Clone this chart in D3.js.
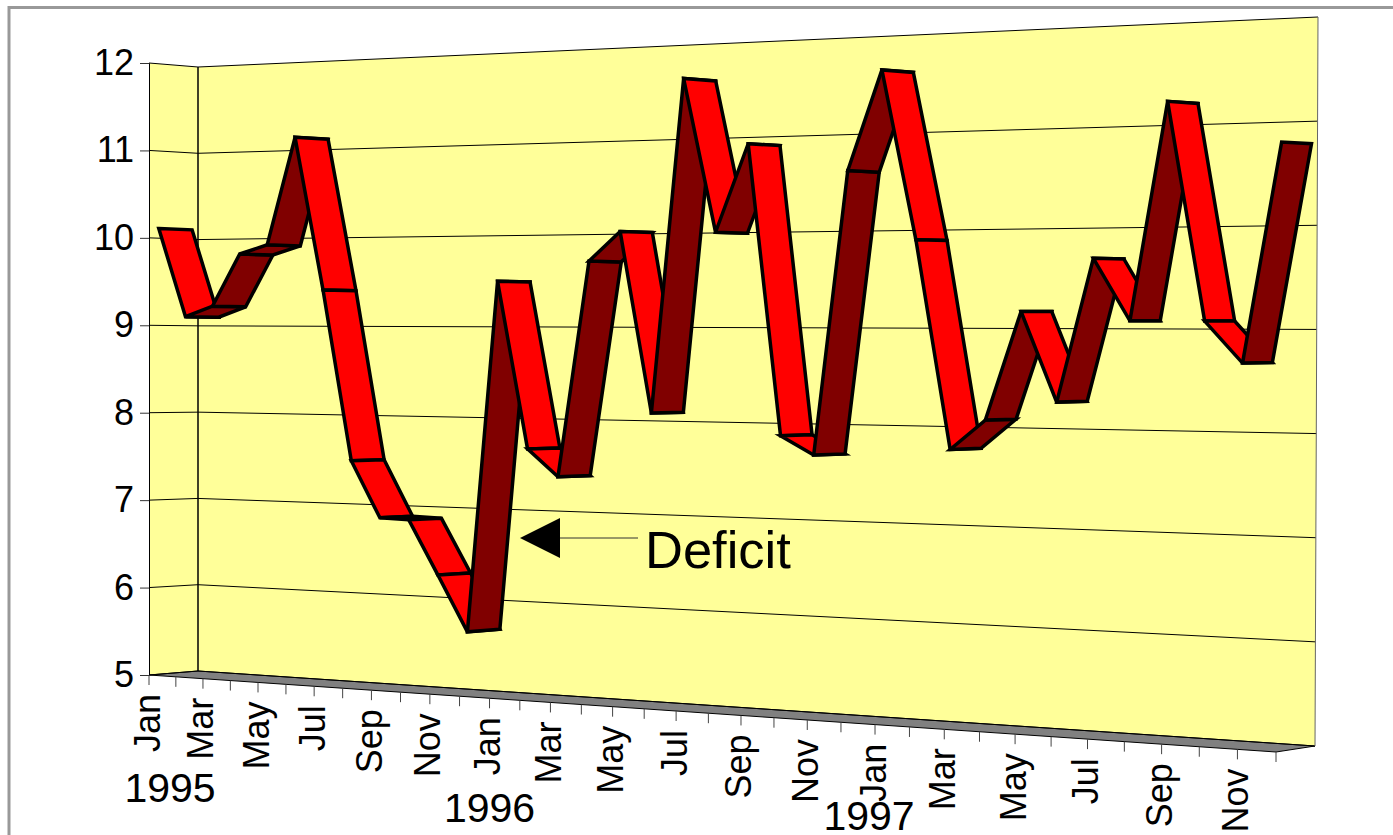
<!DOCTYPE html>
<html>
<head>
<meta charset="utf-8">
<script src="https://cdnjs.cloudflare.com/ajax/libs/d3/7.8.5/d3.min.js"></script>
<style>
  body { margin: 0; background: #fff; overflow: hidden; }
  text { font-family: "Liberation Sans", Arial, sans-serif; fill: #000; }
</style>
</head>
<body>
<div id="chart"></div>
<script>
const months = ["Jan","Feb","Mar","Apr","May","Jun","Jul","Aug","Sep","Oct","Nov","Dec"];
const years = ["1995", "1996", "1997"];
const yTicks = [5, 6, 7, 8, 9, 10, 11, 12];
const deficit = [
  10.11, 9.10, 9.22, 9.81, 9.91, 11.11, 9.40, 7.51, 6.89, 6.88, 6.29, 5.69,
  9.49, 7.69, 7.40, 9.70, 10.01, 8.10, 11.60, 9.99, 10.90, 7.89, 7.70, 10.60,
  11.61, 9.89, 7.79, 8.09, 9.17, 8.28, 9.69, 9.08, 11.20, 9.08, 8.68, 10.78
];

(function ribbon() {
  const width = 1393, height = 835;

  const svg = d3.select("#chart")
    .append("svg")
    .attr("width", width)
    .attr("height", height);

  const categories = deficit.map((d, i) => i);

  // corners of the box: f = front, b = back, 0 = left end, 1 = right end
  const frontLow = d3.scaleLinear().domain([0, 1]).range([[149, 675], [1276, 752]]);
  const frontHigh = d3.scaleLinear().domain([0, 1]).range([[149, 63], [1278, 13]]);
  const backLow = d3.scaleLinear().domain([0, 1]).range([[198, 671], [1315, 746]]);
  const backHigh = d3.scaleLinear().domain([0, 1]).range([[198, 67], [1318, 17]]);

  const u = d3.scaleLinear().domain([0, categories.length - 1]).range([0, 1]);
  const v = d3.scaleLinear().domain([5, 12]).range([0, 1]);

  // foreshortening along the long axis
  const persp = 1.205;
  const along = i => {
    let t = u(i);
    return t / (t + persp * (1 - t));
  };

  function project(i, value, depth) {
    let s = along(i), h = v(value);
    let fl = frontLow(s), fh = frontHigh(s), bl = backLow(s), bh = backHigh(s);
    let x0 = fl[0] + (fh[0] - fl[0]) * h, y0 = fl[1] + (fh[1] - fl[1]) * h;
    let x1 = bl[0] + (bh[0] - bl[0]) * h, y1 = bl[1] + (bh[1] - bl[1]) * h;
    return [x0 + (x1 - x0) * depth, y0 + (y1 - y0) * depth];
  }

  const last = categories.length - 1;
  const poly = d3.line();

  // outer frame, cut by the picture on the right and bottom
  svg.append("rect")
    .attr("x", 9).attr("y", 7.5)
    .attr("width", width).attr("height", height)
    .attr("fill", "#fff")
    .attr("stroke", "#999")
    .attr("stroke-width", 3);

  // side wall and back wall
  svg.append("path")
    .attr("d", poly([project(0, 12, 0), project(0, 12, 1), project(0, 5, 1), project(0, 5, 0)]) + "Z")
    .attr("fill", "#ffff99");

  svg.append("path")
    .attr("d", poly([project(0, 12, 1), project(last, 12, 1), project(last, 5, 1), project(0, 5, 1)]) + "Z")
    .attr("fill", "#ffff99");

  // floor
  svg.append("path")
    .attr("d", poly([project(0, 5, 0), project(0, 5, 1), project(last, 5, 1), project(last, 5, 0)]) + "Z")
    .attr("fill", "#808080")
    .attr("stroke", "#000")
    .attr("stroke-width", 1);

  // gridlines
  const grid = svg.append("g")
    .attr("fill", "none")
    .attr("stroke", "#000")
    .attr("stroke-width", 1);

  for (let t of yTicks) {
    grid.append("path")
      .attr("d", poly([project(0, t, 0), project(0, t, 1), project(last, t, 1)]));
  }

  grid.append("path")
    .attr("d", poly([project(0, 12, 1), project(0, 5, 1)]))
    .attr("stroke-width", 1.5);

  grid.append("path")
    .attr("d", poly([project(last, 12, 1), project(last, 5, 1)]))
    .attr("stroke", "#666");

  // value axis on the front left edge
  const yAxisScale = d3.scaleLinear().domain([5, 12]).range([675, 63]);

  const yAxis = svg.append("g")
    .attr("transform", "translate(149,0)")
    .call(d3.axisLeft(yAxisScale).tickValues(yTicks).tickSize(9).tickPadding(6).tickFormat(d => d));

  yAxis.selectAll("text")
    .attr("font-size", 36)
    .attr("font-family", "'Liberation Sans', Arial, sans-serif");
  yAxis.selectAll("line").attr("stroke", "#333");
  yAxis.select(".domain").attr("stroke", "#000").attr("stroke-width", 1);

  // month ticks and labels run along the slanted front edge
  const ticks = svg.append("g");

  for (let i of categories) {
    let p = project(i, 5, 0);

    ticks.append("line")
      .attr("x1", p[0]).attr("x2", p[0])
      .attr("y1", p[1]).attr("y2", p[1] + 10)
      .attr("stroke", "#444")
      .attr("stroke-width", 1);

    if (i % 2 === 0) {
      ticks.append("text")
        .text(months[i % 12])
        .attr("transform", `translate(${p[0] + 10.5},${p[1] + 19}) rotate(-90)`)
        .attr("text-anchor", "end")
        .attr("font-size", 36);
    }
  }

  // year labels, nudged the way they sit on the original
  const yearOffset = [[21, 127], [0, 124], [-6, 105]];

  years.forEach((year, n) => {
    let p = project(n * 12, 5, 0);
    svg.append("text")
      .text(year)
      .attr("x", p[0] + yearOffset[n][0])
      .attr("y", p[1] + yearOffset[n][1])
      .attr("text-anchor", "middle")
      .attr("font-size", 41);
  });

  // ribbon, painted left to right; it sits a little closer to the front at the far end
  const front = d3.scaleLinear().domain([0, last]).range([0.2, 0.1]);
  const back = d3.scaleLinear().domain([0, last]).range([0.88, 0.85]);
  const ribbonG = svg.append("g")
    .attr("stroke", "#000")
    .attr("stroke-width", 3.5)
    .attr("stroke-linejoin", "miter");

  for (let i = 0; i < last; i++) {
    let a = deficit[i], b = deficit[i + 1];
    ribbonG.append("path")
      .attr("d", poly([
        project(i, a, front(i)), project(i, a, back(i)),
        project(i + 1, b, back(i + 1)), project(i + 1, b, front(i + 1))
      ]) + "Z")
      .attr("fill", b > a ? "#800000" : "#ff0000");
  }

  // annotation
  svg.append("path")
    .attr("d", "M520,538L560,518L560,558Z")
    .attr("fill", "#000");

  svg.append("line")
    .attr("x1", 560).attr("x2", 638)
    .attr("y1", 538).attr("y2", 538)
    .attr("stroke", "#333")
    .attr("stroke-width", 1);

  svg.append("text")
    .text("Deficit")
    .attr("x", 645)
    .attr("y", 568)
    .attr("font-size", 52.5);
})();
</script>
</body>
</html>
